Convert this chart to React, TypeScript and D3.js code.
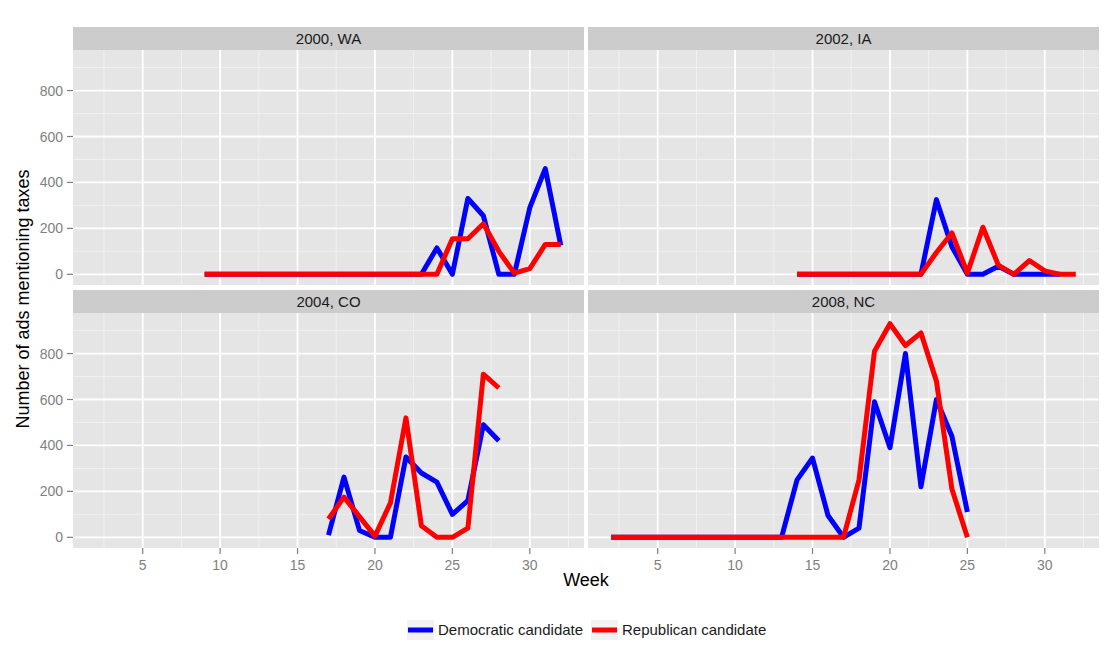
import React from "react";
import * as d3 from "d3";

const WIDTH = 1107;
const HEIGHT = 667;

// facet strip labels
const FACETS = ["2000, WA", "2002, IA", "2004, CO", "2008, NC"];
const SERIES = ["Democratic candidate", "Republican candidate"];
const COLORS = ["#0000FF", "#FF0000"];

// axis ticks
const WEEK_TICKS = [5, 10, 15, 20, 25, 30];
const COUNT_TICKS = [0, 200, 400, 600, 800];

// 2000, WA (values read by week, starting at the given week)
const waStart = 9;
const waDem = [0, 0, 0, 0, 0, 0, 0, 0, 0, 0, 0, 0, 0, 0, 0, 115, 0, 330, 255, 0, 0, 290, 460, 125];
const waRep = [0, 0, 0, 0, 0, 0, 0, 0, 0, 0, 0, 0, 0, 0, 0, 0, 155, 155, 220, 100, 5, 25, 130, 130];

// 2002, IA
const iaStart = 14;
const iaDem = [0, 0, 0, 0, 0, 0, 0, 0, 0, 325, 120, 0, 0, 35, 0, 0, 0, 0];
const iaRep = [0, 0, 0, 0, 0, 0, 0, 0, 0, 95, 180, 5, 205, 40, 0, 60, 15, 0, 0];

// 2004, CO
const coStart = 17;
const coDem = [10, 262, 30, 0, 0, 350, 280, 240, 100, 160, 490, 420];
const coRep = [80, 175, 90, 5, 150, 520, 50, 0, 0, 40, 710, 650];

// 2008, NC
const ncStart = 2;
const ncDem = [0, 0, 0, 0, 0, 0, 0, 0, 0, 0, 0, 0, 250, 345, 95, 0, 40, 590, 390, 800, 220, 600, 440, 110];
const ncRep = [0, 0, 0, 0, 0, 0, 0, 0, 0, 0, 0, 0, 0, 0, 0, 0, 250, 810, 930, 835, 890, 680, 210, 0];

type Pt = { week: number; value: number };
const toPoints = (start: number, values: number[]): Pt[] =>
  values.map((value, i) => ({ week: start + i, value }));

const panels = [
  { label: FACETS[0], dem: toPoints(waStart, waDem), rep: toPoints(waStart, waRep) },
  { label: FACETS[1], dem: toPoints(iaStart, iaDem), rep: toPoints(iaStart, iaRep) },
  { label: FACETS[2], dem: toPoints(coStart, coDem), rep: toPoints(coStart, coRep) },
  { label: FACETS[3], dem: toPoints(ncStart, ncDem), rep: toPoints(ncStart, ncRep) },
];

// layout
const LEFT = 73;
const TOP = 27;
const PANEL_W = 511;
const COL_GAP = 4;
const STRIP_H = 23;
const BODY_H = 235;
const ROW_GAP = 5;
const FONT = "'Liberation Sans', Arial, sans-serif";

// shared scales (ggplot style 5% expansion)
const allPts = panels.flatMap((p) => [...p.dem, ...p.rep]);
const expand = (ext: [number, number]) => {
  const pad = (ext[1] - ext[0]) * 0.05;
  return [ext[0] - pad, ext[1] + pad];
};
const xDomain = expand(d3.extent(allPts, (d) => d.week) as [number, number]);
const yDomain = expand([0, d3.max(allPts, (d) => d.value) as number]);

const Panel = ({ idx, panel }: { idx: number; panel: (typeof panels)[number] }) => {
  const col = idx % 2;
  const row = Math.floor(idx / 2);
  const x0 = LEFT + col * (PANEL_W + COL_GAP);
  const y0 = TOP + row * (STRIP_H + BODY_H + ROW_GAP);
  const bodyTop = y0 + STRIP_H;
  const bodyBottom = bodyTop + BODY_H;

  const x = d3.scaleLinear().domain(xDomain).range([x0, x0 + PANEL_W]);
  const y = d3.scaleLinear().domain(yDomain).range([bodyBottom, bodyTop]);

  const xMinor = [WEEK_TICKS[0] - 2.5, ...WEEK_TICKS.map((t) => t + 2.5)].filter(
    (t) => t > xDomain[0] && t < xDomain[1]
  );
  const yMinor = COUNT_TICKS.map((t) => t + 100).filter((t) => t < yDomain[1]);

  const line = d3
    .line<Pt>()
    .x((d) => x(d.week))
    .y((d) => y(d.value));

  return (
    <g>
      <rect x={x0} y={bodyTop} width={PANEL_W} height={BODY_H} fill="#E5E5E5" />
      {xMinor.map((t) => (
        <line key={"xm" + t} x1={x(t)} x2={x(t)} y1={bodyTop} y2={bodyBottom} stroke="#F2F2F2" strokeWidth={0.9} />
      ))}
      {yMinor.map((t) => (
        <line key={"ym" + t} x1={x0} x2={x0 + PANEL_W} y1={y(t)} y2={y(t)} stroke="#F2F2F2" strokeWidth={0.9} />
      ))}
      {WEEK_TICKS.map((t) => (
        <line key={"xg" + t} x1={x(t)} x2={x(t)} y1={bodyTop} y2={bodyBottom} stroke="#FFFFFF" strokeWidth={1.8} />
      ))}
      {COUNT_TICKS.map((t) => (
        <line key={"yg" + t} x1={x0} x2={x0 + PANEL_W} y1={y(t)} y2={y(t)} stroke="#FFFFFF" strokeWidth={1.8} />
      ))}
      <rect x={x0} y={y0} width={PANEL_W} height={STRIP_H} fill="#CCCCCC" />
      <text
        x={x0 + PANEL_W / 2}
        y={y0 + STRIP_H / 2}
        dy="0.36em"
        textAnchor="middle"
        fontSize={15}
        fill="#1A1A1A"
      >
        {panel.label}
      </text>
      <path d={line(panel.dem) || ""} fill="none" stroke={COLORS[0]} strokeWidth={5} strokeLinejoin="round" />
      <path d={line(panel.rep) || ""} fill="none" stroke={COLORS[1]} strokeWidth={5} strokeLinejoin="round" />
      {col === 0 &&
        COUNT_TICKS.map((t) => (
          <g key={"yt" + t}>
            <line x1={x0 - 6} x2={x0} y1={y(t)} y2={y(t)} stroke="#7F7F7F" strokeWidth={1.2} />
            <text x={x0 - 10} y={y(t)} dy="0.36em" textAnchor="end" fontSize={14} fill="#7F7F7F">
              {t}
            </text>
          </g>
        ))}
      {row === 1 &&
        WEEK_TICKS.map((t) => (
          <g key={"xt" + t}>
            <line x1={x(t)} x2={x(t)} y1={bodyBottom} y2={bodyBottom + 6} stroke="#7F7F7F" strokeWidth={1.2} />
            <text x={x(t)} y={bodyBottom + 17} dy="0.36em" textAnchor="middle" fontSize={14} fill="#7F7F7F">
              {t}
            </text>
          </g>
        ))}
    </g>
  );
};

export default function App() {
  const plotRight = LEFT + 2 * PANEL_W + COL_GAP;
  const plotBottom = TOP + 2 * (STRIP_H + BODY_H) + ROW_GAP;
  const legendY = 630;
  const legendItems = [
    { key: 408, text: 438 },
    { key: 592, text: 622 },
  ];
  return (
    <svg
      width={WIDTH}
      height={HEIGHT}
      style={{ position: "absolute", left: 0, top: 0, background: "#FFFFFF" }}
      fontFamily={FONT}
    >
      {panels.map((p, i) => (
        <Panel key={p.label} idx={i} panel={p} />
      ))}
      <text
        transform={`translate(23,${(TOP + STRIP_H + plotBottom) / 2}) rotate(-90)`}
        dy="0.36em"
        textAnchor="middle"
        fontSize={18}
        fill="#000000"
      >
        Number of ads mentioning taxes
      </text>
      <text x={(LEFT + plotRight) / 2} y={580} dy="0.36em" textAnchor="middle" fontSize={18} fill="#000000">
        Week
      </text>
      {SERIES.map((s, i) => (
        <g key={s}>
          <rect x={legendItems[i].key - 1} y={legendY - 10} width={27} height={20} fill="#F2F2F2" />
          <line
            x1={legendItems[i].key}
            x2={legendItems[i].key + 25}
            y1={legendY}
            y2={legendY}
            stroke={COLORS[i]}
            strokeWidth={5}
          />
          <text x={legendItems[i].text} y={legendY} dy="0.36em" fontSize={15} fill="#1A1A1A">
            {s}
          </text>
        </g>
      ))}
    </svg>
  );
}
